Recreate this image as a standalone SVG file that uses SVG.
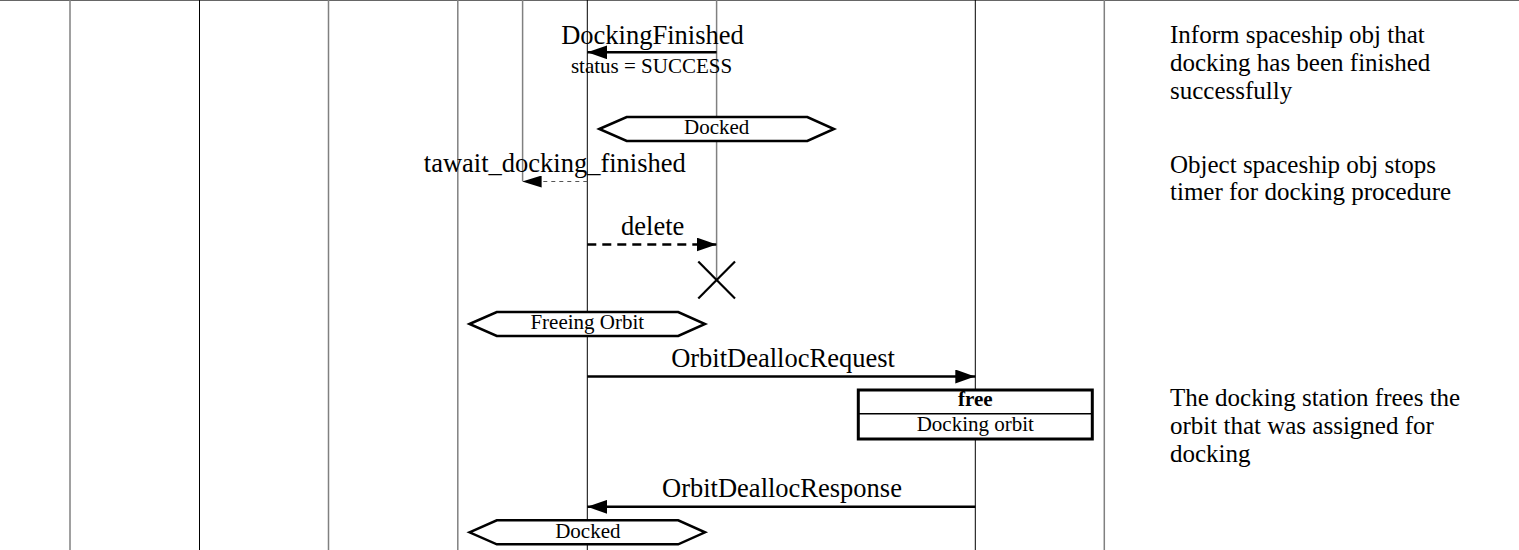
<svg xmlns="http://www.w3.org/2000/svg" width="1519" height="550" viewBox="0 0 1519 550">
  <style>
    text { font-family: "Liberation Serif", "Times New Roman", serif; fill: #000; }
    .lbl { font-size: 26.5px; text-anchor: middle; }
    .sm { font-size: 21px; text-anchor: middle; }
    .note { font-size: 25px; }
    .lane-gray { stroke: #808080; stroke-width: 1.5; fill: none; }
    .lane-black { stroke: #000; stroke-width: 1; fill: none; }
    .msg { stroke: #000; stroke-width: 2.5; fill: none; }
    .msg-dash { stroke: #000; stroke-width: 2.5; fill: none; stroke-dasharray: 9 6; }
    .timer { stroke: #555; stroke-width: 1; fill: none; stroke-dasharray: 4 4; }
    .state { fill: #fff; stroke: #000; stroke-width: 2.5; }
    .box { fill: #fff; stroke: #000; stroke-width: 3; }
  </style>
  <defs>
    <marker id="head" markerUnits="userSpaceOnUse" markerWidth="20" markerHeight="14" refX="20" refY="7" orient="auto">
      <polygon points="0,0 20,7 0,14" fill="#000"/>
    </marker>
    <marker id="head-small" markerUnits="userSpaceOnUse" markerWidth="19" markerHeight="12" refX="19" refY="6" orient="auto">
      <polygon points="0,0 19,6 0,12" fill="#000"/>
    </marker>
  </defs>

  <rect width="1519" height="550" fill="#fff"/>

  <!-- frame top edge -->
  <line x1="0" y1="0.5" x2="1519" y2="0.5" stroke="#666" stroke-width="1"/>

  <!-- lifelines -->
  <g id="lane-1"><line class="lane-gray" x1="70" y1="0" x2="70" y2="550" stroke-width="2"/></g>
  <g id="lane-2"><line class="lane-black" x1="199.5" y1="0" x2="199.5" y2="550" stroke-width="1.3"/></g>
  <g id="lane-3"><line class="lane-gray" x1="328.5" y1="0" x2="328.5" y2="550" stroke="#555" stroke-width="1.2"/></g>
  <g id="lane-4"><line class="lane-gray" x1="457.8" y1="0" x2="457.8" y2="550"/></g>
  <g id="lane-timer"><line class="lane-gray" x1="522.6" y1="0" x2="522.6" y2="181"/></g>
  <g id="lane-spaceship"><line class="lane-black" x1="587.3" y1="0" x2="587.3" y2="550"/></g>
  <g id="lane-docking-proc">
    <line class="lane-gray" x1="716.6" y1="0" x2="716.6" y2="280"/>
    <line x1="698.3" y1="261.5" x2="735" y2="298.5" stroke="#000" stroke-width="2.2"/>
    <line x1="735" y1="261.5" x2="698.3" y2="298.5" stroke="#000" stroke-width="2.2"/>
  </g>
  <g id="lane-station"><line class="lane-black" x1="975.3" y1="0" x2="975.3" y2="550"/></g>
  <g id="lane-notes"><line class="lane-gray" x1="1104.3" y1="0" x2="1104.3" y2="550" stroke-width="2"/></g>

  <!-- messages -->
  <g id="connectors">
    <line class="msg" x1="716.6" y1="52.3" x2="587.3" y2="52.3" marker-end="url(#head)"/>
    <line class="timer" x1="587.3" y1="181.5" x2="522.6" y2="181.5" marker-end="url(#head-small)"/>
    <line class="msg-dash" x1="587.3" y1="244.5" x2="716.6" y2="244.5" marker-end="url(#head)"/>
    <line class="msg" x1="587.3" y1="376.5" x2="975.3" y2="376.5" marker-end="url(#head)"/>
    <line class="msg" x1="975.3" y1="506.8" x2="587.3" y2="506.8" marker-end="url(#head)"/>
  </g>

  <g id="labels">
    <text class="lbl" x="652.5" y="44">DockingFinished</text>
    <text class="sm" x="651.5" y="72.5">status = SUCCESS</text>
    <text class="lbl" x="554.8" y="171.7">tawait_docking_finished</text>
    <text class="lbl" x="652.7" y="235">delete</text>
    <text class="lbl" x="783" y="366.7">OrbitDeallocRequest</text>
    <text class="lbl" x="782" y="497">OrbitDeallocResponse</text>
  </g>

  <!-- state symbols -->
  <g id="state-docked-1">
    <polygon class="state" points="599.3,129 626.7,117 807.3,117 834,129 807.3,141 626.7,141"/>
    <text class="sm" x="716.7" y="133.5">Docked</text>
  </g>
  <g id="state-freeing-orbit">
    <polygon class="state" points="469.5,324 496.8,312 678.2,312 705,324 678.2,336 496.8,336"/>
    <text class="sm" x="587.3" y="329">Freeing Orbit</text>
  </g>
  <g id="state-docked-2">
    <polygon class="state" points="469.5,532.3 496.8,520.3 678.2,520.3 705,532.3 678.2,544.3 496.8,544.3"/>
    <text class="sm" x="587.8" y="537.7">Docked</text>
  </g>

  <!-- action box -->
  <g id="action-free">
    <rect class="box" x="858.3" y="390" width="234" height="49"/>
    <line x1="858.3" y1="413.7" x2="1092.3" y2="413.7" stroke="#000" stroke-width="1.5"/>
    <text class="sm" x="975.3" y="406" font-weight="bold">free</text>
    <text class="sm" x="975.3" y="430.7">Docking orbit</text>
  </g>

  <!-- comments, one text block per note -->
  <g id="note-1">
    <text class="note" x="1170" y="43">Inform spaceship obj that<tspan x="1170" dy="27.8">docking has been finished</tspan><tspan x="1170" dy="27.8">successfully</tspan></text>
  </g>
  <g id="note-2">
    <text class="note" x="1170" y="172.5">Object spaceship obj stops<tspan x="1170" dy="27.8">timer for docking procedure</tspan></text>
  </g>
  <g id="note-3">
    <text class="note" x="1170" y="406">The docking station frees the<tspan x="1170" dy="27.8">orbit that was assigned for</tspan><tspan x="1170" dy="27.8">docking</tspan></text>
  </g>
</svg>
